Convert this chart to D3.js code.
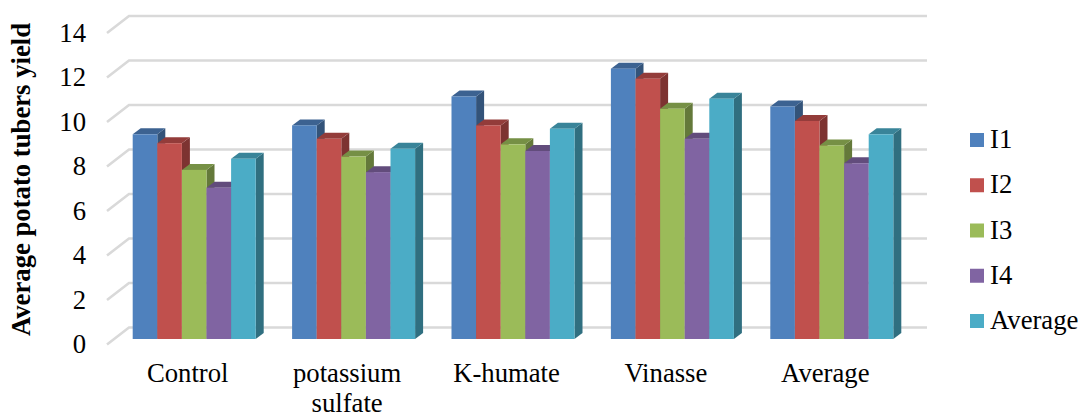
<!DOCTYPE html>
<html>
<head>
<meta charset="utf-8">
<script src="https://cdn.jsdelivr.net/npm/d3@7"></script>
<style>
  html, body { margin: 0; padding: 0; background: #fff; }
  text { font-family: "Liberation Serif", serif; fill: #000; }
</style>
</head>
<body>
<div class="canvas"></div>
<script>
const categories = [['Control'], ['potassium', 'sulfate'], ['K-humate'], ['Vinasse'], ['Average']]
const seriesNames = ['I1', 'I2', 'I3', 'I4', 'Average']
const I1 = [9.2, 9.6, 10.9, 12.15, 10.45]
const I2 = [8.8, 9.0, 9.6, 11.7, 9.8]
const I3 = [7.6, 8.2, 8.75, 10.35, 8.7]
const I4 = [6.8, 7.5, 8.45, 9.0, 7.9]
const avg = [8.1, 8.55, 9.45, 10.8, 9.2]
const allSeries = [I1, I2, I3, I4, avg]
const yTicks = [0, 2, 4, 6, 8, 10, 12, 14]

const colors = ['#4f81bd', '#c0504d', '#9bbb59', '#8064a2', '#4bacc6']
const topColors = ['#3c6291', '#933c3a', '#769045', '#624c7c', '#398499']
const sideColors = ['#335379', '#7d3331', '#64793a', '#523f68', '#306f80']

const dims = { width: 1081, height: 414 }
const fontSize = 26.7

// plot depth: wall sits up and right of the floor front edge
const wall = { dx: 22, dy: 17 }
const barDepth = { dx: 8, dy: 6 }

const svg = d3.select('.canvas')
    .append('svg')
    .attr('width', dims.width)
    .attr('height', dims.height)
    .style('display', 'block')

// Scales (wall plane)
const y = d3.scaleLinear().domain([0, 14]).range([327.5, 16])
const x = d3.scaleBand()
    .domain(d3.range(categories.length))
    .range([92.5, 889.5])
const bx = d3.scaleBand()
    .domain(d3.range(seriesNames.length))
    .range([0, 123])

const barBase = 339
const barY = v => barBase - (y(0) - y(v))
const groupX = i => x(i) + 40.2

// gridlines
const grid = svg.append('g')
grid.selectAll('path')
    .data(yTicks)
    .enter()
    .append('path')
    .attr('d', d => `M107,${y(d) + wall.dy}L129,${y(d)}H927`)
    .attr('fill', 'none')
    .attr('stroke', '#d9d9d9')
    .attr('stroke-width', 2.6)

// y tick labels
svg.append('g').selectAll('text')
    .data(yTicks)
    .enter()
    .append('text')
    .attr('x', 86)
    .attr('y', d => y(d) + wall.dy + 8.5)
    .attr('text-anchor', 'end')
    .attr('font-size', fontSize)
    .text(d => d)

// y axis title
svg.append('text')
    .attr('transform', 'translate(30, 179.5) rotate(-90)')
    .attr('text-anchor', 'middle')
    .attr('font-size', fontSize)
    .attr('font-weight', 'bold')
    .text('Average potato tubers yield')

// bars, drawn group by group
const bars = svg.append('g')
categories.forEach((c, i) => {
    const g = bars.append('g')
        .attr('transform', `translate(${groupX(i)}, 0)`)

    // each side gets covered by the next bar's front face
    allSeries.forEach((vals, s) => {
        const b = g.append('g')
        const x0 = bx(s)
        const w = bx.bandwidth()
        const top = barY(vals[i])

        b.append('path')
            .attr('d', `M${x0 + w},${top}l${barDepth.dx},${-barDepth.dy}V${barBase - barDepth.dy}l${-barDepth.dx},${barDepth.dy}Z`)
            .attr('fill', sideColors[s])
        b.append('path')
            .attr('d', `M${x0},${top}l${barDepth.dx},${-barDepth.dy}h${w}l${-barDepth.dx},${barDepth.dy}Z`)
            .attr('fill', topColors[s])
        b.append('rect')
            .attr('x', x0)
            .attr('y', top)
            .attr('width', w)
            .attr('height', barBase - top)
            .attr('fill', colors[s])
    })
})

// category labels
const catLabels = svg.append('g').selectAll('text')
    .data(categories)
    .enter()
    .append('text')
    .attr('text-anchor', 'middle')
    .attr('font-size', fontSize)

catLabels.selectAll('tspan')
    .data((d, i) => d.map(t => ({ t, i })))
    .enter()
    .append('tspan')
    .attr('x', d => groupX(d.i) + 55)
    .attr('y', (d, j) => 381.5 + j * 30)
    .text(d => d.t)

// legend
const legendY = d3.scalePoint()
    .domain(seriesNames)
    .range([140, 321])

const legend = svg.append('g')
legend.selectAll('rect')
    .data(seriesNames)
    .enter()
    .append('rect')
    .attr('x', 970)
    .attr('y', d => legendY(d) - 7)
    .attr('width', 14)
    .attr('height', 14)
    .attr('fill', (d, i) => colors[i])

legend.selectAll('text')
    .data(seriesNames)
    .enter()
    .append('text')
    .attr('x', 990)
    .attr('y', d => legendY(d) + 8)
    .attr('font-size', fontSize)
    .text(d => d)
</script>
</body>
</html>
